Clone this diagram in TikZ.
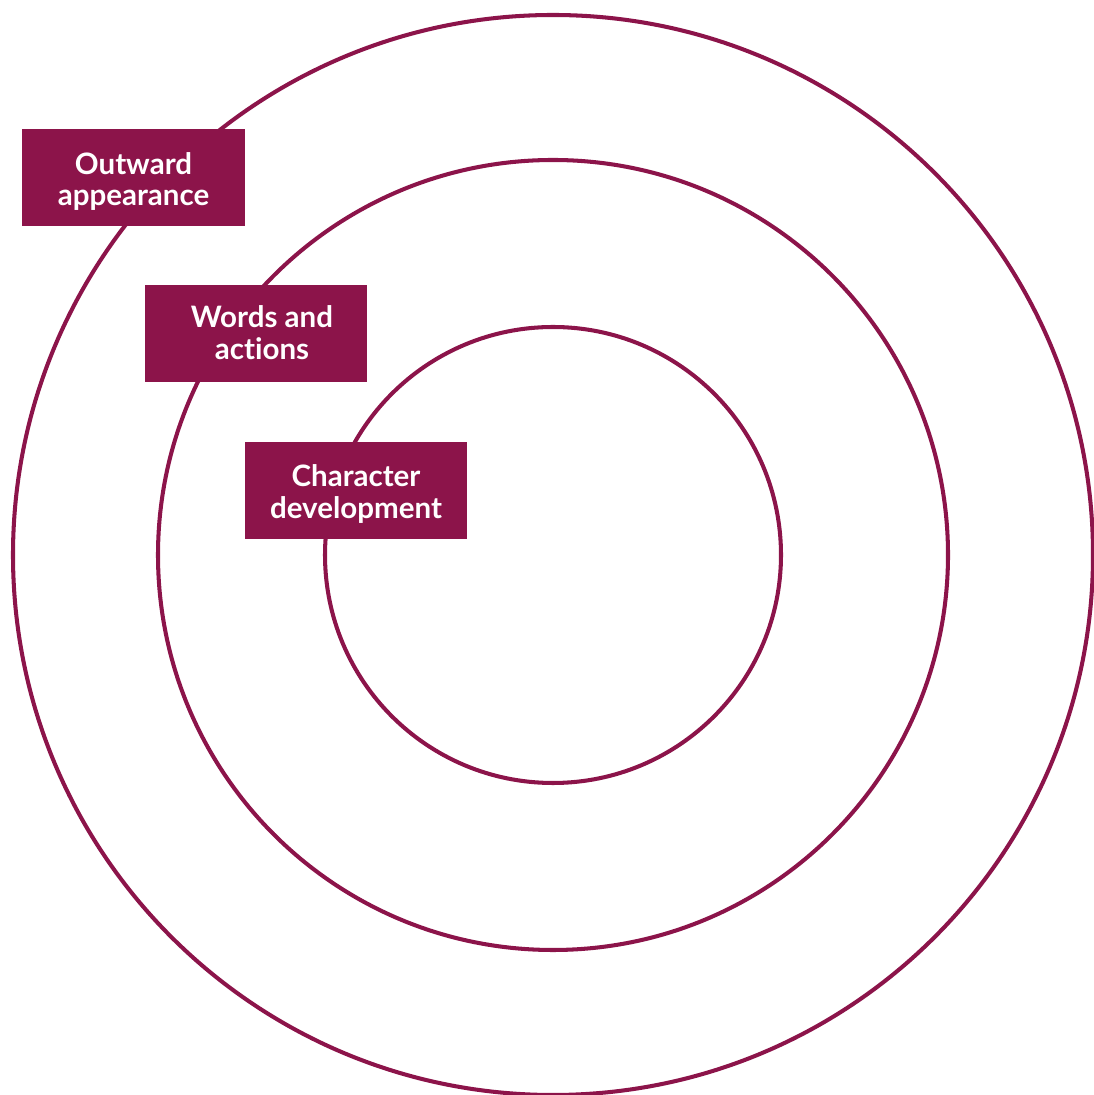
\documentclass[tikz,border=0pt]{standalone}
\usepackage{fontspec}
\newfontfamily\latofont{Lato}[Ligatures=NoCommon]
\definecolor{plum}{RGB}{140,20,74}
\tikzset{
	ring/.style={line width=2.3pt, color=plum},
	tag/.style={fill=plum, text=white, minimum width=4.46cm, minimum height=1.94cm,
		align=center, inner sep=0pt, text height=34.8pt, text depth=3pt,
		font=\latofont\bfseries\fontsize{16.8}{18}\selectfont}
}

\begin{document}
\begin{tikzpicture}[x=0.02cm, y=0.02cm]
		%%%%% START %%%%%
		\useasboundingbox (0, 0) rectangle (1093, 1095);
		
		% the three rings
		\draw[ring] (553, 540) circle (540);
		\draw[ring] (553, 540) circle (395);
		\draw[ring] (553, 540) circle (228);
		
		% labels sitting on the rings
		\node[tag] (outward) at (133.5, 917) {Outward\\appearance};
		\node[tag, text height=32pt] (words) at (256, 761)
			{\hspace*{0.24cm}Words and\\\hspace*{0.24cm}actions};
		\node[tag] (character) at (356, 604.5) {Character\\development};
		
		%%%%% END %%%%%
	\end{tikzpicture}
\end{document}
